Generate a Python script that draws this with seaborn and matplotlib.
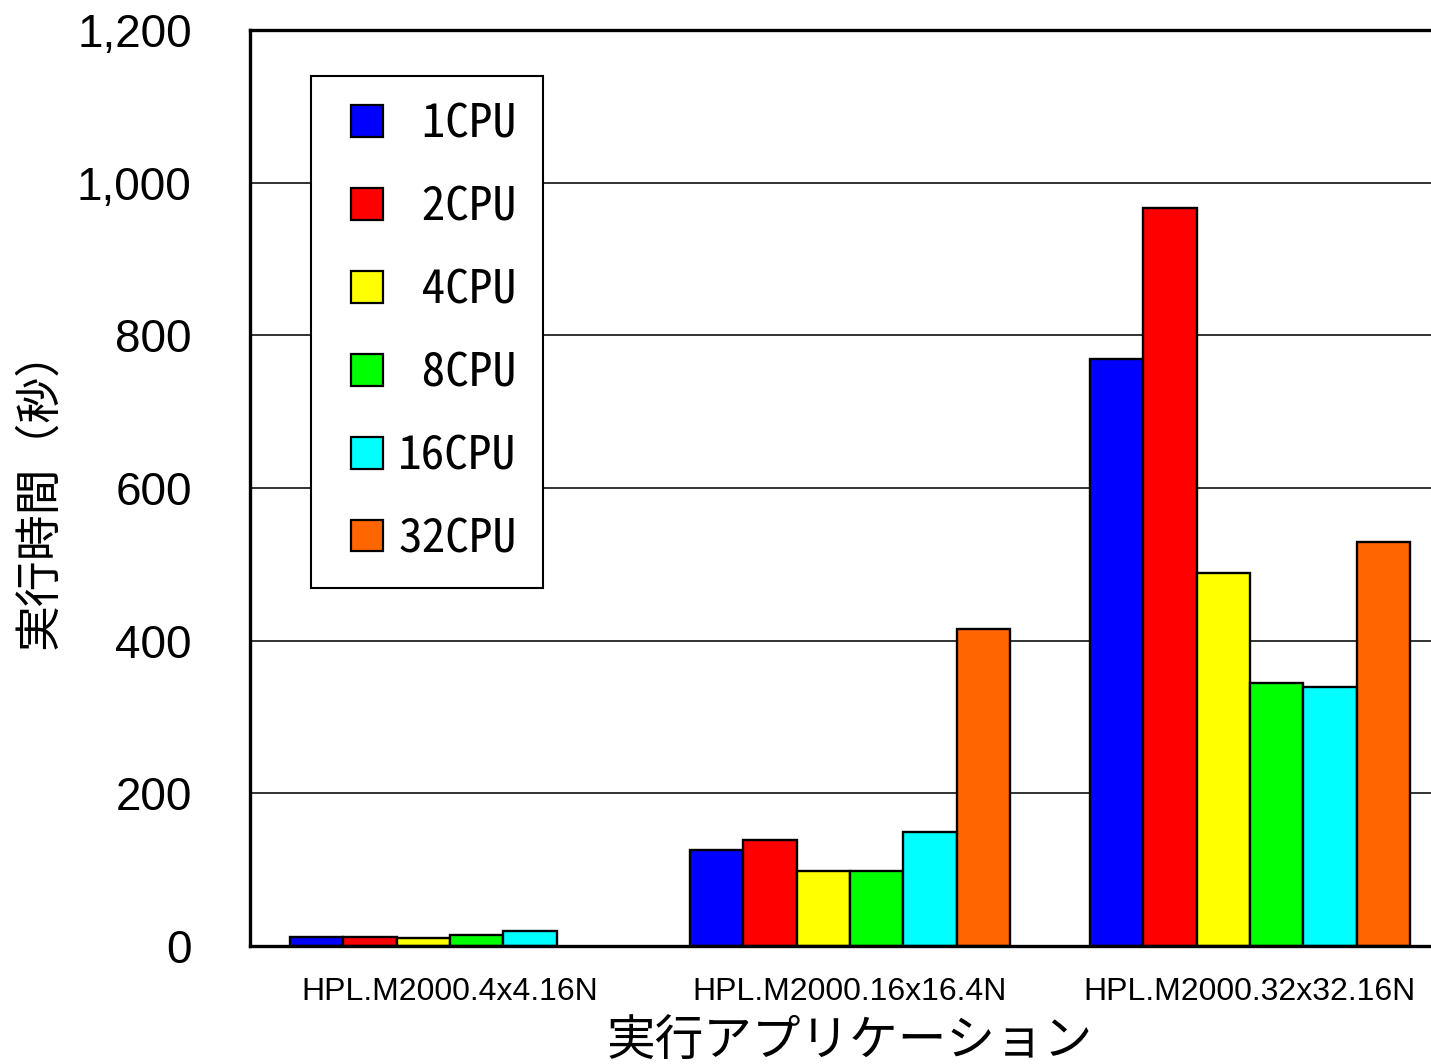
import numpy as np
import pandas as pd
import seaborn as sns
import matplotlib.pyplot as plt
from matplotlib.patches import Patch, Rectangle
from matplotlib.legend_handler import HandlerPatch
from matplotlib.ticker import FuncFormatter, FixedLocator

# data
apps = ['HPL.M2000.4x4.16N', 'HPL.M2000.16x16.4N', 'HPL.M2000.32x32.16N']
cpus = ['1CPU', '2CPU', '4CPU', '8CPU', '16CPU', '32CPU']
t_1cpu = [12, 126, 769]
t_2cpu = [12, 139, 967]
t_4cpu = [11, 98, 489]
t_8cpu = [14, 98, 345]
t_16cpu = [20, 149, 339]
t_32cpu = [np.nan, 415, 529]
colors = ['#0000FF', '#FF0000', '#FFFF00', '#00FF00', '#00FFFF', '#FF6600']

series = [t_1cpu, t_2cpu, t_4cpu, t_8cpu, t_16cpu, t_32cpu]
rows = []
for cpu, vals in zip(cpus, series):
    for app, v in zip(apps, vals):
        rows.append({'app': app, 'cpu': cpu, 'time': v})
df = pd.DataFrame(rows)

sns.set_style('white')
plt.rcParams['font.family'] = ['Liberation Sans', 'Noto Sans CJK JP']
plt.rcParams['text.color'] = 'black'
plt.rcParams['axes.labelcolor'] = 'black'
plt.rcParams['xtick.color'] = 'black'
plt.rcParams['ytick.color'] = 'black'

fig = plt.figure(figsize=(14.31, 10.64), dpi=100)
ax = fig.add_axes([250 / 1431, 118 / 1064, 1200 / 1431, 916 / 1064])

sns.barplot(data=df, x='app', y='time', hue='cpu', order=apps, hue_order=cpus,
            palette=colors, saturation=1, edgecolor='black', linewidth=1.7,
            errorbar=None, width=0.8, ax=ax)

ax.set_xlim(-0.5, 2.5)
ax.set_ylim(0, 1200)
ax.set_yticks(range(0, 1201, 200))
ax.yaxis.set_major_formatter(FuncFormatter(lambda v, p: f'{int(v):,}'))
ax.set_axisbelow(True)
ax.grid(axis='y', color='#222222', linewidth=1.3)
ax.grid(axis='x', visible=False)

for side in ['left', 'bottom', 'top', 'right']:
    ax.spines[side].set_visible(True)
    ax.spines[side].set_color('black')
    ax.spines[side].set_linewidth(2.4)

ax.tick_params(axis='y', length=0, pad=42, labelsize=33)
ax.tick_params(axis='x', which='major', length=0, pad=22, labelsize=23)
ax.xaxis.set_minor_locator(FixedLocator([0.5, 1.5]))
ax.tick_params(axis='x', which='minor', direction='in', length=8, width=1.5, color='black')

ax.set_xlabel('実行アプリケーション', fontsize=35, labelpad=7,
              family=['Noto Sans CJK JP', 'DejaVu Sans'])
ax.set_ylabel('実行時間（秒）', fontsize=33, labelpad=10,
              family=['Noto Sans CJK JP', 'DejaVu Sans'])


# square swatch pushed to the right end of the handle box
def square_patch(legend, orig_handle, xdescent, ydescent, width, height, fontsize):
    return Rectangle((-xdescent + width - height, -ydescent), height, height)


handles = [Patch(facecolor=c, edgecolor='black', linewidth=1.6) for c in colors]
labels = [' 1CPU', ' 2CPU', ' 4CPU', ' 8CPU', '16CPU', '32CPU']
leg = ax.legend(handles, labels, loc='upper left',
                bbox_to_anchor=(311 / 1431, 1 - 76 / 1064),
                bbox_transform=fig.transFigure,
                handler_map={Patch: HandlerPatch(patch_func=square_patch)},
                prop={'family': ['Noto Sans Mono CJK JP', 'Noto Sans CJK JP'], 'size': 34},
                frameon=True, fancybox=False, framealpha=1, edgecolor='black',
                handlelength=0.98, handleheight=0.66, handletextpad=0.32,
                labelspacing=0.78, borderpad=0.55, borderaxespad=0)
leg.get_frame().set_linewidth(1.5)

fig.savefig('out.png', dpi=100)
